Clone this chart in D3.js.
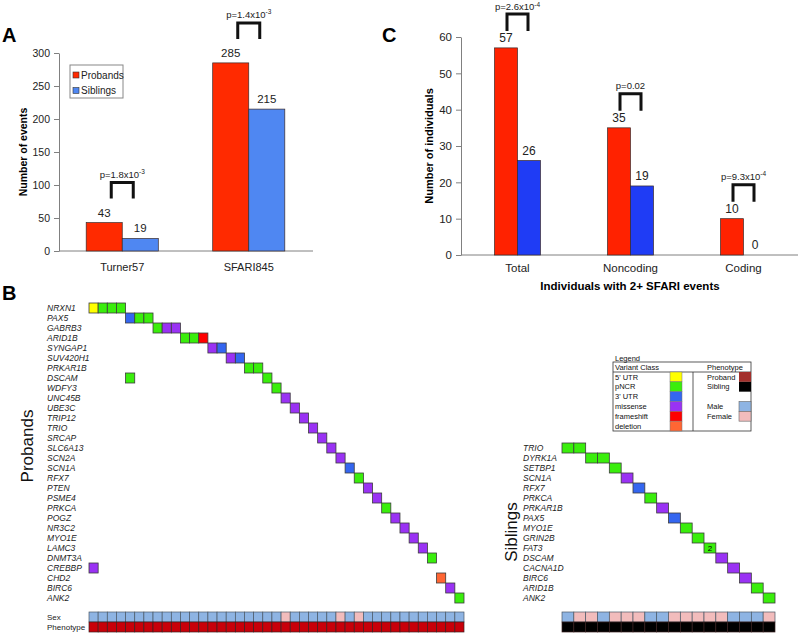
<!DOCTYPE html>
<html><head><meta charset="utf-8">
<script src="https://cdn.jsdelivr.net/npm/d3@7"></script>
<style>body{margin:0;background:#fff;} svg{display:block;font-family:"Liberation Sans",Arial,sans-serif;}</style>
</head><body><svg id="c" width="800" height="633"></svg>
<script>
// ---------- DATA ----------
const seriesNames = ["Probands", "Siblings"];
const aCategories = ["Turner57", "SFARI845"];
const aProbands = [43, 285];
const aSiblings = [19, 215];
const aPText = ["p=1.8x10", "p=1.4x10"];
const aPExp = ["-3", "-3"];
const aYTicks = [0, 50, 100, 150, 200, 250, 300];

const cCategories = ["Total", "Noncoding", "Coding"];
const cProbands = [57, 35, 10];
const cSiblings = [26, 19, 0];
const cPText = ["p=2.6x10", "p=0.02", "p=9.3x10"];
const cPExp = ["-4", "", "-4"];
const cYTicks = [0, 10, 20, 30, 40, 50, 60];

const variantClasses = ["5' UTR", "pNCR", "3' UTR", "missense", "frameshift", "deletion"];
const variantColors = ["#ffff00", "#3aee0c", "#3466f0", "#9a32f4", "#ff0000", "#ff6633"];
const phenotypeNames = ["Proband", "Sibling"];
const phenotypeColors = ["#a3302c", "#000000"];
const sexNames = ["Male", "Female"];
const sexColors = ["#8eb4e3", "#f2bcbc"];

const probandGenes = ["NRXN1","PAX5","GABRB3","ARID1B","SYNGAP1","SUV420H1","PRKAR1B","DSCAM","WDFY3","UNC45B","UBE3C","TRIP12","TRIO","SRCAP","SLC6A13","SCN2A","SCN1A","RFX7","PTEN","PSME4","PRKCA","POGZ","NR3C2","MYO1E","LAMC3","DNMT3A","CREBBP","CHD2","BIRC6","ANK2"];
// [gene, individual index, variant class]
const probandEvents = [
  ["NRXN1",0,"5' UTR"],["NRXN1",1,"pNCR"],["NRXN1",2,"pNCR"],["NRXN1",3,"pNCR"],
  ["PAX5",4,"3' UTR"],["PAX5",5,"pNCR"],["PAX5",6,"pNCR"],
  ["GABRB3",7,"pNCR"],["GABRB3",8,"missense"],["GABRB3",9,"missense"],
  ["ARID1B",10,"pNCR"],["ARID1B",11,"pNCR"],["ARID1B",12,"frameshift"],
  ["SYNGAP1",13,"missense"],["SYNGAP1",14,"3' UTR"],
  ["SUV420H1",15,"missense"],["SUV420H1",16,"3' UTR"],
  ["PRKAR1B",17,"pNCR"],["PRKAR1B",18,"pNCR"],
  ["DSCAM",4,"pNCR"],["DSCAM",19,"pNCR"],
  ["WDFY3",20,"pNCR"],["UNC45B",21,"missense"],["UBE3C",22,"missense"],["TRIP12",23,"missense"],
  ["TRIO",24,"missense"],["SRCAP",25,"missense"],["SLC6A13",26,"missense"],["SCN2A",27,"missense"],
  ["SCN1A",28,"3' UTR"],["RFX7",29,"pNCR"],["PTEN",30,"missense"],["PSME4",31,"missense"],
  ["PRKCA",32,"pNCR"],["POGZ",33,"missense"],["NR3C2",34,"missense"],["MYO1E",35,"missense"],
  ["LAMC3",36,"missense"],["DNMT3A",37,"pNCR"],["CREBBP",0,"missense"],["CHD2",38,"deletion"],
  ["BIRC6",39,"missense"],["ANK2",40,"pNCR"]
];
const probandSex = ["M","M","M","M","M","M","M","M","M","M","M","M","M","M","M","M","M","M","M","M","M","F","M","M","M","M","M","F","M","F","M","M","M","M","M","M","M","M","M","M","M"];

const siblingGenes = ["TRIO","DYRK1A","SETBP1","SCN1A","RFX7","PRKCA","PRKAR1B","PAX5","MYO1E","GRIN2B","FAT3","DSCAM","CACNA1D","BIRC6","ARID1B","ANK2"];
// [gene, individual index, variant class, count label]
const siblingEvents = [
  ["TRIO",0,"pNCR",""],["TRIO",1,"pNCR",""],["DYRK1A",2,"pNCR",""],["DYRK1A",3,"pNCR",""],
  ["SETBP1",4,"pNCR",""],["SCN1A",5,"missense",""],["RFX7",6,"3' UTR",""],["PRKCA",7,"pNCR",""],
  ["PRKAR1B",8,"missense",""],["PAX5",9,"3' UTR",""],["MYO1E",10,"pNCR",""],["GRIN2B",11,"pNCR",""],
  ["FAT3",12,"pNCR","2"],["DSCAM",13,"missense",""],["CACNA1D",14,"missense",""],["BIRC6",15,"missense",""],
  ["ARID1B",16,"pNCR",""],["ANK2",17,"pNCR",""]
];
const siblingSex = ["M","F","F","M","F","F","F","M","M","F","F","F","F","F","M","M","M","F"];

// ---------- DRAW ----------
const svg = d3.select("#c");
const classColor = d3.scaleOrdinal().domain(variantClasses).range(variantColors);
const sexColor = d3.scaleOrdinal().domain(["M","F"]).range(sexColors);

function panelLetter(t, x, y) {
  svg.append("text").attr("x", x).attr("y", y).attr("font-size", 20).attr("font-weight", "bold").text(t);
}
panelLetter("A", 2, 42);
panelLetter("C", 382, 42);
panelLetter("B", 2, 300);

function barPanel(o) {
  const g = svg.append("g");
  const x0 = d3.scaleBand().domain(o.categories).range(o.xRange).paddingInner(o.padIn).paddingOuter(o.padIn / 2);
  const x1 = d3.scaleBand().domain(seriesNames).range([0, x0.bandwidth()]);
  const y = d3.scaleLinear().domain(o.yDomain).range(o.yRange);
  const color = d3.scaleOrdinal().domain(seriesNames).range(o.colors);

  const ax = g.append("g").attr("transform", `translate(${o.xRange[0]},0)`)
    .call(d3.axisLeft(y).tickValues(o.ticks).tickSize(5).tickSizeOuter(0).tickPadding(4));
  ax.selectAll("path,line").attr("stroke", "#808080");
  ax.selectAll("text").attr("font-size", o.tickFont).attr("fill", "#222").attr("font-family", "Liberation Sans, Arial, sans-serif");
  g.append("line").attr("x1", o.xRange[0]).attr("x2", o.xAxisEnd).attr("y1", y(0)).attr("y2", y(0)).attr("stroke", "#808080");

  const rows = o.categories.map((c, i) => ({ c, vals: [{ s: seriesNames[0], v: o.probands[i] }, { s: seriesNames[1], v: o.siblings[i] }] }));
  const cg = g.selectAll("g.cat").data(rows).join("g").attr("transform", d => `translate(${x0(d.c)},0)`);
  cg.selectAll("rect").data(d => d.vals.filter(v => v.v > 0)).join("rect")
    .attr("x", d => x1(d.s)).attr("width", x1.bandwidth())
    .attr("y", d => y(d.v)).attr("height", d => y(0) - y(d.v))
    .attr("fill", d => color(d.s)).attr("stroke", "#3a2a2a").attr("stroke-width", 0.7);
  cg.selectAll("text.val").data(d => d.vals).join("text").attr("class", "val")
    .attr("x", d => x1(d.s) + x1.bandwidth() / 2).attr("y", d => y(d.v) - 6)
    .attr("text-anchor", "middle").attr("font-size", o.valFont).attr("fill", "#222").text(d => d.v);

  // category labels
  g.selectAll("text.cat").data(o.categories).join("text").attr("class", "cat")
    .attr("x", d => x0(d) + x0.bandwidth() / 2).attr("y", o.catY)
    .attr("text-anchor", "middle").attr("font-size", o.catFont).attr("fill", "#222").text(d => d);

  // p-value brackets
  o.categories.forEach((c, i) => {
    const cx = x0(c) + x0.bandwidth() / 2;
    const bottom = y(Math.max(o.probands[i], o.siblings[i])) - o.brOff;
    const top = bottom - o.brH;
    g.append("path").attr("d", `M${cx - o.brW},${bottom}V${top}H${cx + o.brW}V${bottom}`)
      .attr("fill", "none").attr("stroke", "#111").attr("stroke-width", 3);
    const t = g.append("text").attr("x", cx).attr("y", Math.max(top - 5, 10)).attr("text-anchor", "middle")
      .attr("font-size", 9.5).attr("fill", "#222");
    t.append("tspan").text(o.pText[i]);
    if (o.pExp[i]) t.append("tspan").attr("dy", -3.5).attr("font-size", 6.5).text(o.pExp[i]);
  });

  // y-axis title
  g.append("text").attr("transform", `translate(${o.yTitleX},${o.yTitleY}) rotate(-90)`)
    .attr("text-anchor", "middle").attr("font-size", o.yTitleFont).attr("font-weight", "bold").text(o.yTitle);
  return { x0, y, color };
}

barPanel({
  categories: aCategories, probands: aProbands, siblings: aSiblings,
  xRange: [59, 312], xAxisEnd: 313, padIn: 0.43, yDomain: [0, 300], yRange: [251, 53],
  ticks: aYTicks, colors: ["#ff2a00", "#4f87f2"], tickFont: 10.5, valFont: 11.5, catFont: 11, catY: 271,
  pText: aPText, pExp: aPExp, brOff: 24, brH: 16, brW: 11,
  yTitle: "Number of events", yTitleX: 27, yTitleY: 152, yTitleFont: 10.5
});

barPanel({
  categories: cCategories, probands: cProbands, siblings: cSiblings,
  xRange: [461, 800], xAxisEnd: 798, padIn: 0.593, yDomain: [0, 60], yRange: [255, 37],
  ticks: cYTicks, colors: ["#ff2200", "#1f3cf5"], tickFont: 11.5, valFont: 12, catFont: 11.5, catY: 272,
  pText: cPText, pExp: cPExp, brOff: 17, brH: 17, brW: 10.5,
  yTitle: "Number of individuals", yTitleX: 433, yTitleY: 146, yTitleFont: 11
});
svg.append("text").attr("x", 630).attr("y", 290).attr("text-anchor", "middle")
  .attr("font-size", 11.5).attr("font-weight", "bold").text("Individuals with 2+ SFARI events");

// Panel A legend
const la = svg.append("g");
la.append("rect").attr("x", 70).attr("y", 65).attr("width", 53).attr("height", 33).attr("fill", "#fff").attr("stroke", "#888");
la.selectAll("g").data(seriesNames).join("g").each(function (d, i) {
  const e = d3.select(this);
  e.append("rect").attr("x", 73).attr("y", 72 + i * 15.5).attr("width", 6).attr("height", 6)
    .attr("fill", ["#ff2a00", "#4f87f2"][i]).attr("stroke", "#333").attr("stroke-width", 0.6);
  e.append("text").attr("x", 81).attr("y", 78.5 + i * 15.5).attr("font-size", 10).attr("fill", "#222").text(d);
});

// ---------- Panel B heatmaps ----------
function heatmap(o) {
  const g = svg.append("g");
  const x = d3.scaleBand().domain(d3.range(o.sex.length)).range(o.xRange);
  const y = d3.scaleBand().domain(o.genes).range(o.yRange);
  g.selectAll("text.gene").data(o.genes).join("text").attr("class", "gene")
    .attr("x", o.labelX).attr("y", d => y(d) + y.bandwidth() / 2 + 3)
    .attr("font-size", 8.5).attr("font-style", "italic").attr("fill", "#222").text(d => d);
  g.selectAll("rect.cell").data(o.events).join("rect").attr("class", "cell")
    .attr("x", d => x(d[1])).attr("y", d => y(d[0])).attr("width", x.bandwidth()).attr("height", y.bandwidth())
    .attr("fill", d => classColor(d[2])).attr("stroke", "#3c3c3c").attr("stroke-width", 0.8);
  g.selectAll("text.cnt").data(o.events.filter(d => d[3])).join("text").attr("class", "cnt")
    .attr("x", d => x(d[1]) + x.bandwidth() / 2).attr("y", d => y(d[0]) + y.bandwidth() / 2 + 3)
    .attr("text-anchor", "middle").attr("font-size", 8).text(d => d[3]);
  g.selectAll("rect.sex").data(o.sex).join("rect").attr("class", "sex")
    .attr("x", (d, i) => x(i)).attr("y", 612).attr("width", x.bandwidth()).attr("height", 10)
    .attr("fill", d => sexColor(d)).attr("stroke", "#4a5866").attr("stroke-width", 0.7);
  g.selectAll("rect.ph").data(o.sex).join("rect").attr("class", "ph")
    .attr("x", (d, i) => x(i)).attr("y", 622).attr("width", x.bandwidth()).attr("height", 10)
    .attr("fill", o.phColor).attr("stroke", "#3a2020").attr("stroke-width", 0.7);
  if (o.rowLabels) {
    g.append("text").attr("x", o.labelX).attr("y", 620).attr("font-size", 8).attr("fill", "#222").text("Sex");
    g.append("text").attr("x", o.labelX).attr("y", 630).attr("font-size", 8).attr("fill", "#222").text("Phenotype");
  }
  g.append("text").attr("transform", `translate(${o.titleX},${o.titleY}) rotate(-90)`)
    .attr("text-anchor", "middle").attr("font-size", 17).attr("fill", "#111").text(o.title);
}

heatmap({ genes: probandGenes, events: probandEvents.map(d => [d[0], d[1], d[2], ""]), sex: probandSex,
  xRange: [89, 464], yRange: [303, 603], labelX: 47, phColor: "#c8000a", rowLabels: true,
  title: "Probands", titleX: 33, titleY: 446 });
heatmap({ genes: siblingGenes, events: siblingEvents, sex: siblingSex,
  xRange: [562, 775], yRange: [443, 603], labelX: 523, phColor: "#000", rowLabels: false,
  title: "Siblings", titleX: 517, titleY: 532 });

// ---------- Legend ----------
const lg = svg.append("g").attr("font-size", 7.5).attr("fill", "#111");
lg.append("text").attr("x", 615).attr("y", 361).text("Legend");
lg.append("rect").attr("x", 613).attr("y", 362).attr("width", 138).attr("height", 69).attr("fill", "none").attr("stroke", "#333").attr("stroke-width", 0.8);
lg.append("text").attr("x", 615).attr("y", 370).text("Variant Class");
lg.append("text").attr("x", 707).attr("y", 370).text("Phenotype");
lg.append("line").attr("x1", 613).attr("x2", 751).attr("y1", 372).attr("y2", 372).attr("stroke", "#333").attr("stroke-width", 0.8);
lg.append("line").attr("x1", 693).attr("x2", 693).attr("y1", 372).attr("y2", 431).attr("stroke", "#333").attr("stroke-width", 0.8);
const rowH = 59 / 6;
variantClasses.forEach((c, i) => {
  lg.append("text").attr("x", 615).attr("y", 372 + rowH * i + 7.5).text(c);
  lg.append("rect").attr("x", 670).attr("y", 372 + rowH * i).attr("width", 12).attr("height", rowH)
    .attr("fill", variantColors[i]).attr("stroke", "#777").attr("stroke-width", 0.5);
});
const rightRows = [[phenotypeNames[0], phenotypeColors[0], 0], [phenotypeNames[1], phenotypeColors[1], 1],
  [sexNames[0], sexColors[0], 3], [sexNames[1], sexColors[1], 4]];
rightRows.forEach(([n, col, r]) => {
  lg.append("text").attr("x", 707).attr("y", 372 + rowH * r + 7.5).text(n);
  lg.append("rect").attr("x", 739).attr("y", 372 + rowH * r).attr("width", 12).attr("height", rowH)
    .attr("fill", col).attr("stroke", r > 1 ? "#666" : "none").attr("stroke-width", 0.6);
});
</script></body></html>
